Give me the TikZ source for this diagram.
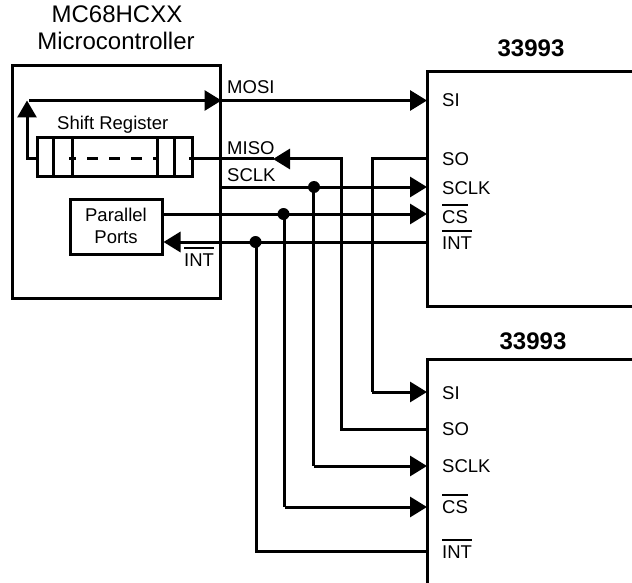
\documentclass[tikz,border=0pt]{standalone}
\usepackage{fontspec}
\setmainfont{Liberation Sans}
\usetikzlibrary{arrows.meta}
\tikzset{
  x=1pt,y=-1pt,
  wire/.style={line width=3pt},
  tip/.style={-{Triangle[length=17pt,width=20pt]}},
  uptip/.style={-{Triangle[length=17pt,width=19pt]}},
  box/.style={draw,line width=3pt,inner sep=0pt},
  lbl/.style={font=\fontsize{18.5}{22}\selectfont,inner sep=0pt,anchor=base west},
  hd/.style={font=\fontsize{24}{28}\selectfont,inner sep=0pt,anchor=base},
  hdb/.style={font=\bfseries\fontsize{24}{28}\selectfont,inner sep=0pt,anchor=base},
  dotn/.style={circle,fill=black,inner sep=0pt,minimum size=12pt},
}
\newcommand{\ovl}[1]{\setbox0\hbox{#1}\rlap{\raisebox{17pt}{\rule{\wd0}{1.6pt}}}\box0}
\begin{document}
\begin{tikzpicture}
\useasboundingbox (0,0) rectangle (632,583);
% boxes
\node[box,minimum width=208pt,minimum height=232pt] (mcu) at (116,182) {};
\node[box,minimum width=155pt,minimum height=39pt] (sr) at (114.5,157.5) {};
\node[box,minimum width=92pt,minimum height=55pt] (pp) at (116,226.5) {};
\draw[wire] (632,72) -- (427,72) -- (427,306) -- (632,306);
\draw[wire] (632,359) -- (427,359) -- (427,583);
\coordinate (u1si) at (427,100.5);
\coordinate (u1so) at (427,159);
\coordinate (u1sclk) at (427,187);
\coordinate (u1cs) at (427,214);
\coordinate (u1int) at (427,242);
\coordinate (u2si) at (427,392);
\coordinate (u2so) at (427,429);
\coordinate (u2sclk) at (427,466);
\coordinate (u2cs) at (427,507);
\coordinate (u2int) at (427,551);
% shift register dividers
\foreach \x in {53,72,157,174} \draw[wire] (\x,138) -- (\x,177);
\draw[wire,dash pattern=on 11pt off 11pt,dash phase=4pt] (69,158.5) -- (159,158.5);
% MOSI
\coordinate (corner) at (27,100.5);
\draw[wire,uptip] (sr.west|-0,158.5) -- (27,158.5) -- (corner);
\draw[wire,tip] (29,100.5) -- (mcu.east|-corner);
\draw[wire,tip] (mcu.east|-corner) -- (u1si);
% MISO
\draw[wire,tip] (341,159) -- (273,159);
\draw[wire] (189,159) -- (274,159);
\draw[wire] (341,157.5) -- (341,429) -- (u2so);
% SO to SI
\draw[wire] (u1so) -- (372,159) -- (372,392);
\draw[wire,tip] (372,392) -- (u2si);
% SCLK
\draw[wire,tip] (220,187) -- (u1sclk);
\node[dotn] (d1) at (314,187) {};
\draw[wire] (313.5,187) -- (313.5,466);
\draw[wire,tip] (313.5,466) -- (u2sclk);
% CS
\draw[wire,tip] (pp.east|-u1cs) -- (u1cs);
\node[dotn] (d2) at (283.5,214) {};
\draw[wire] (284.5,214) -- (284.5,507);
\draw[wire,tip] (284.5,507) -- (u2cs);
% INT
\draw[wire,tip] (u1int) -- (pp.east|-u1int);
\node[dotn] (d3) at (255.5,242) {};
\draw[wire] (256,242) -- (256,551) -- (u2int);
% labels
\node[hd] (t1) at (117,23) {MC68HCXX};
\node[hd] (t2) at (116,50) {Microcontroller};
\node[hdb] (t3) at (531,57) {33993};
\node[hdb] (t4) at (533,349) {33993};
\node[lbl] (sh) at (57,130) {Shift Register};
\node[lbl,anchor=base] at (116,221) {Parallel};
\node[lbl,anchor=base] at (116,243) {Ports};
\node[lbl] at (227,93.5) {MOSI};
\node[lbl] at (227,154) {MISO};
\node[lbl] at (227,181.5) {SCLK};
\node[lbl] at (184,266) {\ovl{INT}};
\node[lbl] at (442,107) {SI};
\node[lbl] at (442,166) {SO};
\node[lbl] at (442,194) {SCLK};
\node[lbl] at (442,223) {\ovl{CS}};
\node[lbl] at (442,249) {\ovl{INT}};
\node[lbl] at (442,399) {SI};
\node[lbl] at (442,435) {SO};
\node[lbl] at (442,472) {SCLK};
\node[lbl] at (442,513) {\ovl{CS}};
\node[lbl] at (442,558) {\ovl{INT}};
\end{tikzpicture}
\end{document}
